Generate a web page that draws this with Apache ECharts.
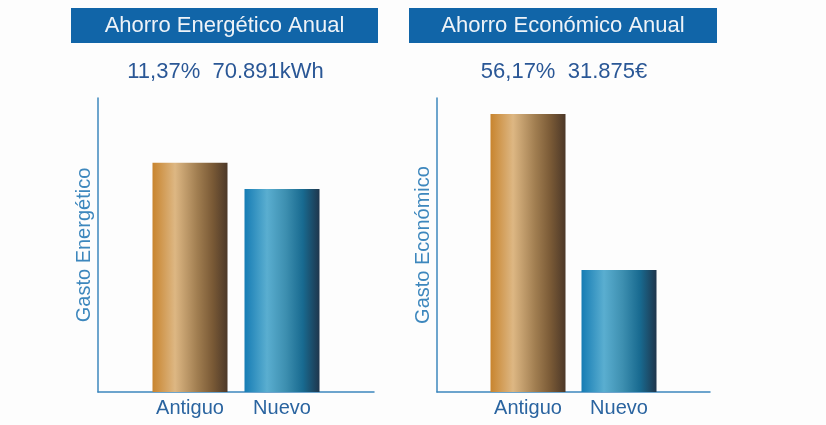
<!DOCTYPE html>
<html>
<head>
<meta charset="utf-8">
<script src="https://cdn.jsdelivr.net/npm/echarts@6/dist/echarts.min.js"></script>
<style>
html,body{margin:0;padding:0;background:#fdfdfd;}
#chart{width:826px;height:425px;}
</style>
</head>
<body>
<div id="chart"></div>
<script>
const categories = ['Antiguo', 'Nuevo'];
const energyValues = [623491, 552600];     // kWh
const economicValues = [56748, 24873];     // €
const panelTitles = ['Ahorro Energético Anual', 'Ahorro Económico Anual'];
const panelSubtitles = ['11,37%  70.891kWh', '56,17%  31.875€'];
const axisNames = ['Gasto Energético', 'Gasto Económico'];
const axisMax = [800000, 60000];

const FONT = '"Liberation Sans", Arial, sans-serif';
const paddedCats = [''].concat(categories, ['']);

function grad(stops) {
  return new echarts.graphic.LinearGradient(0, 0, 1, 0,
    stops.map(s => ({offset: s[0], color: s[1]})));
}
const oldGrad = () => grad([[0,'#c8842e'],[0.3,'#ddb783'],[0.6,'#a07d50'],[0.8,'#7a5a36'],[1,'#4c3828']]);
const newGrad = () => grad([[0,'#167cb4'],[0.3,'#5aaed0'],[0.55,'#3d8fb0'],[0.78,'#186a90'],[1,'#1f364c']]);

function seriesData(vals) {
  return [null,
    {value: vals[0], itemStyle: {color: oldGrad()}},
    {value: vals[1], itemStyle: {color: newGrad()}},
    null];
}

const axisLineColor = '#3d87bd';
function xAx(i) {
  return {
    type: 'category', gridIndex: i, data: paddedCats, boundaryGap: false,
    axisLine: {lineStyle: {color: axisLineColor, width: 1.5}},
    axisTick: {show: false},
    axisLabel: {color: '#2a64a0', fontSize: 20, fontFamily: FONT, margin: 6, interval: 0}
  };
}
function yAx(i) {
  return {
    type: 'value', gridIndex: i, min: 0, max: axisMax[i],
    axisLine: {show: true, lineStyle: {color: axisLineColor, width: 1.5}},
    axisTick: {show: false}, axisLabel: {show: false}, splitLine: {show: false},
    name: axisNames[i], nameLocation: 'middle', nameGap: 4, nameRotate: 90,
    nameTextStyle: {color: '#3d87bd', fontSize: 20, fontFamily: FONT}
  };
}

const boxes = [{x: 71, w: 307}, {x: 409, w: 308}];
const graphics = [];
boxes.forEach((b, i) => {
  graphics.push({type: 'rect', shape: {x: b.x, y: 8, width: b.w, height: 35},
    style: {fill: '#1165a8'}, z: 1});
  graphics.push({type: 'text', x: b.x + b.w / 2, y: 26, z: 2,
    style: {text: panelTitles[i], fill: '#eef3f8', font: '22px ' + FONT,
      textAlign: 'center', textVerticalAlign: 'middle'}});
  graphics.push({type: 'text', x: b.x + b.w / 2 + 1, y: 72, z: 2,
    style: {text: panelSubtitles[i], fill: '#2a5796', font: '22px ' + FONT,
      textAlign: 'center', textVerticalAlign: 'middle'}});
});

const chart = echarts.init(document.getElementById('chart'), null, {renderer: 'canvas'});
chart.setOption({
  backgroundColor: '#fdfdfd',
  animation: false,
  graphic: graphics,
  grid: [
    {left: 98, right: 452, top: 98, bottom: 33},
    {left: 437, right: 116, top: 98, bottom: 33}
  ],
  xAxis: [xAx(0), xAx(1)],
  yAxis: [yAx(0), yAx(1)],
  series: [
    {type: 'bar', xAxisIndex: 0, yAxisIndex: 0, barWidth: 75, data: seriesData(energyValues)},
    {type: 'bar', xAxisIndex: 1, yAxisIndex: 1, barWidth: 75, data: seriesData(economicValues)}
  ]
});
</script>
</body>
</html>
